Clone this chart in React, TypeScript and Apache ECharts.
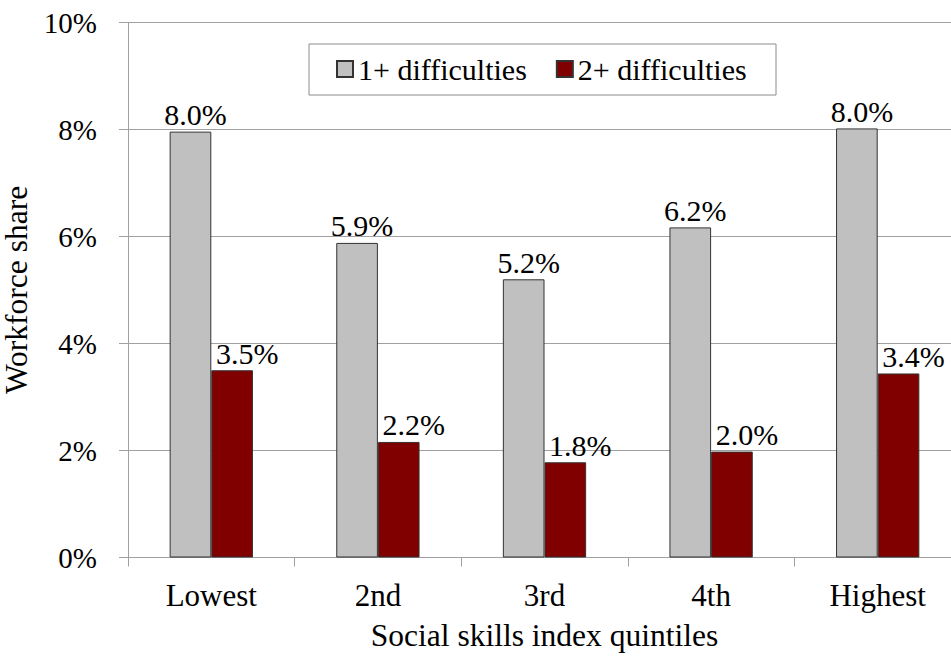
import React, { useEffect, useRef } from "react";
import * as echarts from "echarts";

const categories = ["Lowest", "2nd", "3rd", "4th", "Highest"];
const oneplus = [7.96, 5.88, 5.2, 6.17, 8.02];
const twoplus = [3.5, 2.16, 1.78, 1.98, 3.44];
const seriesNames = ["1+ difficulties", "2+ difficulties"];
const yTicks = { min: 0, max: 10, interval: 2 };
const FONT = "Liberation Serif";

const toData = (arr: number[]) =>
  arr.map((v) => ({ value: v, label: { formatter: v.toFixed(1) + "%" } }));

export default function App() {
  const ref = useRef<HTMLDivElement>(null);
  useEffect(() => {
    document.body.style.margin = "0";
    const chart = echarts.init(ref.current!, null, { renderer: "svg" });
    chart.setOption({
      animation: false,
      backgroundColor: "#fff",
      grid: {
        left: 128,
        top: 22.5,
        width: 833,
        height: 535,
        containLabel: false,
        outerBoundsMode: "none",
      },
      legend: {
        left: 336,
        top: 54,
        padding: 0,
        itemWidth: 16,
        itemHeight: 16,
        itemGap: 29,
        icon: "rect",
        textStyle: { fontFamily: FONT, fontSize: 30, color: "#000" },
        data: seriesNames,
      },
      graphic: [
        {
          type: "rect",
          shape: { x: 309, y: 44, width: 467, height: 51 },
          style: { fill: "none", stroke: "#8c8c8c", lineWidth: 1 },
          z: 100,
        },
      ],
      xAxis: {
        type: "category",
        data: categories,
        name: "Social skills index quintiles",
        nameLocation: "middle",
        nameGap: 62,
        nameTextStyle: { fontFamily: FONT, fontSize: 31.5, color: "#000" },
        axisLine: { lineStyle: { color: "#a0a0a0", width: 1 } },
        axisTick: { show: true, length: 9, lineStyle: { color: "#a0a0a0" } },
        axisLabel: { fontFamily: FONT, fontSize: 31, color: "#000", margin: 22 },
      },
      yAxis: {
        type: "value",
        min: yTicks.min,
        max: yTicks.max,
        interval: yTicks.interval,
        name: "Workforce share",
        nameLocation: "middle",
        nameGap: 83,
        nameTextStyle: { fontFamily: FONT, fontSize: 31.5, color: "#000" },
        axisLine: { show: true, lineStyle: { color: "#a0a0a0", width: 1 } },
        axisTick: { show: true, length: 9, lineStyle: { color: "#a0a0a0" } },
        axisLabel: { fontFamily: FONT, fontSize: 29, color: "#000", margin: 31, formatter: "{value}%" },
        splitLine: { show: true, lineStyle: { color: "#a0a0a0", width: 1 } },
      },
      series: [
        {
          name: seriesNames[0],
          type: "bar",
          data: toData(oneplus),
          barWidth: "25%",
          barGap: "0%",
          itemStyle: { color: "#c0c0c0", borderColor: "#333", borderWidth: 1 },
          label: {
            show: true,
            position: "top",
            distance: 2,
            fontFamily: FONT,
            fontSize: 30,
            color: "#000",
            offset: [5, 0],
          },
        },
        {
          name: seriesNames[1],
          type: "bar",
          data: toData(twoplus),
          barWidth: "25%",
          barGap: "0%",
          itemStyle: { color: "#800000", borderColor: "#333", borderWidth: 1 },
          label: {
            show: true,
            position: "top",
            distance: 2,
            fontFamily: FONT,
            fontSize: 30,
            color: "#000",
            offset: [15, 0],
          },
        },
      ],
    });
    return () => chart.dispose();
  }, []);
  return <div ref={ref} style={{ width: 951, height: 660 }} />;
}
